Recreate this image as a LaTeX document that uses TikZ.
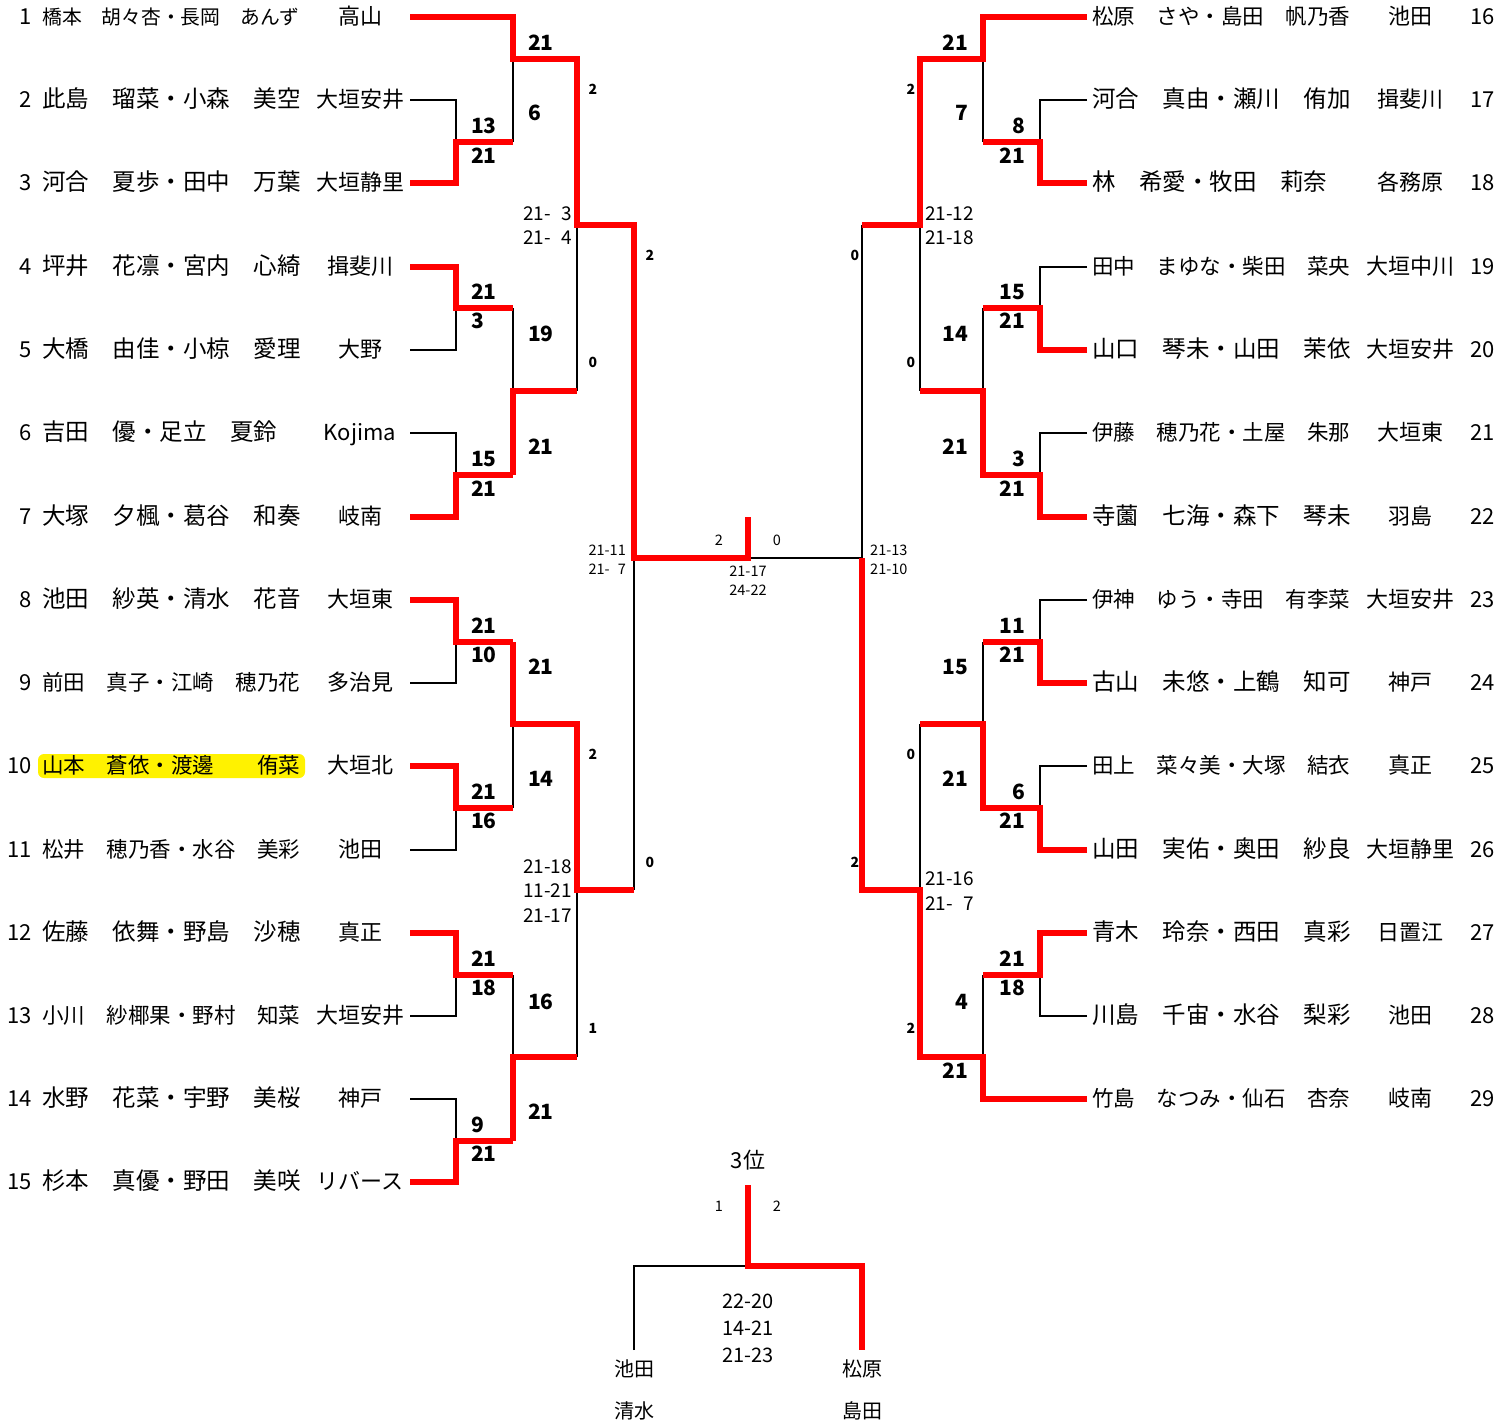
\documentclass[tikz,border=0pt]{standalone}
\usepackage{fontspec}
\setmainfont{Noto Sans CJK JP}
\begin{document}
\begin{tikzpicture}[x=1pt,y=-1pt,
  rl/.style={draw=red,line width=6.5pt},
  bl/.style={draw=black,line width=2pt},
  txt/.style={inner sep=0pt,text height=1.5em,text depth=.1em},
  sc/.style={txt,font=\fontsize{21}{22}\selectfont\bfseries},
  sm/.style={txt,font=\fontsize{14}{15}\selectfont\bfseries},
  st/.style={txt,font=\fontsize{19}{20}\selectfont},
  ss/.style={txt,font=\fontsize{14.5}{15}\selectfont},
  big/.style={txt,font=\fontsize{22}{23}\selectfont},
]
\useasboundingbox (0,0) rectangle (1510,1422);
\fill[yellow,rounded corners=6pt] (38,754) rectangle (305,778);
% left entries
\foreach \y/\n/\s/\nam/\sch in {
 17/1/19.8/橋本　胡々杏・長岡　あんず/高山,
 100/2/23.5/此島　瑠菜・小森　美空/大垣安井,
 183/3/23.5/河合　夏歩・田中　万葉/大垣静里,
 267/4/23.5/坪井　花凛・宮内　心綺/揖斐川,
 350/5/23.5/大橋　由佳・小椋　愛理/大野,
 433/6/23.5/吉田　優・足立　夏鈴/Kojima,
 517/7/23.5/大塚　夕楓・葛谷　和奏/岐南,
 600/8/23.5/池田　紗英・清水　花音/大垣東,
 683/9/21.5/前田　真子・江崎　穂乃花/多治見,
 766/10/21.5/山本　蒼依・渡邊　　侑菜/大垣北,
 850/11/21.5/松井　穂乃香・水谷　美彩/池田,
 933/12/23.5/佐藤　依舞・野島　沙穂/真正,
 1016/13/21.5/小川　紗椰果・野村　知菜/大垣安井,
 1099/14/23.5/水野　花菜・宇野　美桜/神戸,
 1182/15/23.5/杉本　真優・野田　美咲/リバース}{
 \node[big,anchor=east] (Lnum\n) at (32,\y) {\n};
 \node[txt,anchor=west,font=\fontsize{\s}{\s}\selectfont] (Lname\n) at (42,\y) {\nam};
 \node[big] (Lsch\n) at (360,\y) {\sch};
}
% right entries
\foreach \y/\n/\s/\nam/\sch in {
 17/16/21.5/松原　さや・島田　帆乃香/池田,
 100/17/23.5/河合　真由・瀬川　侑加/揖斐川,
 183/18/23.5/林　希愛・牧田　莉奈/各務原,
 267/19/21.5/田中　まゆな・柴田　菜央/大垣中川,
 350/20/23.5/山口　琴未・山田　茉依/大垣安井,
 433/21/21.5/伊藤　穂乃花・土屋　朱那/大垣東,
 517/22/23.5/寺薗　七海・森下　琴未/羽島,
 600/23/21.5/伊神　ゆう・寺田　有李菜/大垣安井,
 683/24/23.5/古山　未悠・上鶴　知可/神戸,
 766/25/21.5/田上　菜々美・大塚　結衣/真正,
 850/26/23.5/山田　実佑・奥田　紗良/大垣静里,
 933/27/23.5/青木　玲奈・西田　真彩/日置江,
 1016/28/23.5/川島　千宙・水谷　梨彩/池田,
 1099/29/21.5/竹島　なつみ・仙石　杏奈/岐南}{
 \node[txt,anchor=west,font=\fontsize{\s}{\s}\selectfont] (Rname\n) at (1092,\y) {\nam};
 \node[big] (Rsch\n) at (1410,\y) {\sch};
 \node[big,anchor=west] (Rnum\n) at (1470,\y) {\n};
}
% small round labels (drawn under lines)
\foreach \x/\y/\t [count=\i] in {593/87/2,593/360/0,593/752/2,593/1026/1,650/253/2,650/860/0,
  911/87/2,911/360/0,911/752/0,911/1026/2,855/253/0,855/860/2}{
 \node[sm] (lab\i) at (\x,\y) {\t};
}
% black lines
\draw[bl] (410,100)--(456,100)--(456,142);
\draw[bl] (410,350)--(456,350)--(456,308);
\draw[bl] (410,433)--(456,433)--(456,475);
\draw[bl] (410,683)--(456,683)--(456,642);
\draw[bl] (410,850)--(456,850)--(456,808);
\draw[bl] (410,1016)--(456,1016)--(456,975);
\draw[bl] (410,1099)--(456,1099)--(456,1141);
\draw[bl] (513,59)--(513,142);
\draw[bl] (513,308)--(513,391);
\draw[bl] (513,724)--(513,808);
\draw[bl] (513,975)--(513,1057);
\draw[bl] (577,225)--(577,391);
\draw[bl] (577,890)--(577,1057);
\draw[bl] (634,558)--(634,890);
\draw[bl] (748,558)--(862,558);
\draw[bl] (862,225)--(862,558);
\draw[bl] (920,225)--(920,391);
\draw[bl] (920,724)--(920,890);
\draw[bl] (983,59)--(983,142);
\draw[bl] (983,308)--(983,391);
\draw[bl] (983,642)--(983,724);
\draw[bl] (983,975)--(983,1057);
\draw[bl] (1087,100)--(1040,100)--(1040,142);
\draw[bl] (1087,267)--(1040,267)--(1040,308);
\draw[bl] (1087,433)--(1040,433)--(1040,475);
\draw[bl] (1087,600)--(1040,600)--(1040,642);
\draw[bl] (1087,766)--(1040,766)--(1040,808);
\draw[bl] (1087,1016)--(1040,1016)--(1040,975);
\draw[bl] (634,1350)--(634,1266)--(748,1266);
% red lines
\draw[rl] (410,183)--(456,183)--(456,142)--(513,142);
\draw[rl] (410,267)--(456,267)--(456,308)--(513,308);
\draw[rl] (410,517)--(456,517)--(456,475)--(513,475);
\draw[rl] (410,600)--(456,600)--(456,642)--(513,642);
\draw[rl] (410,766)--(456,766)--(456,808)--(513,808);
\draw[rl] (410,933)--(456,933)--(456,975)--(513,975);
\draw[rl] (410,1182)--(456,1182)--(456,1141)--(513,1141);
\draw[rl] (410,17)--(513,17)--(513,59)--(577,59)--(577,225)--(634,225)--(634,558)--(748,558)--(748,517);
\draw[rl] (513,475)--(513,391)--(577,391);
\draw[rl] (513,642)--(513,724)--(577,724)--(577,890)--(634,890);
\draw[rl] (513,1141)--(513,1057)--(577,1057);
\draw[rl] (1087,17)--(983,17)--(983,59)--(920,59)--(920,225)--(862,225);
\draw[rl] (1087,183)--(1040,183)--(1040,142)--(983,142);
\draw[rl] (1087,350)--(1040,350)--(1040,308)--(983,308);
\draw[rl] (1087,517)--(1040,517)--(1040,475)--(983,475)--(983,391)--(920,391);
\draw[rl] (1087,683)--(1040,683)--(1040,642)--(983,642);
\draw[rl] (1087,850)--(1040,850)--(1040,808)--(983,808)--(983,724)--(920,724);
\draw[rl] (1087,933)--(1040,933)--(1040,975)--(983,975);
\draw[rl] (1087,1099)--(983,1099)--(983,1057)--(920,1057)--(920,890)--(862,890)--(862,558);
\draw[rl] (748,1185)--(748,1266)--(862,1266)--(862,1350);
% left bold scores
\foreach \x/\y/\t [count=\i] in {471/126/13,471/156/21,528/43/21,528/113/6,
  471/292/21,471/321/3,528/334/19,471/459/15,471/489/21,528/447/21,
  471/626/21,471/655/10,528/667/21,471/792/21,471/821/16,528/779/14,
  471/959/21,471/988/18,528/1002/16,471/1125/9,471/1154/21,528/1112/21}{
 \node[sc,anchor=west] (ls\i) at (\x,\y) {\t};
}
% right bold scores
\foreach \x/\y/\t [count=\i] in {1025/126/8,1025/156/21,1025/292/15,1025/321/21,1025/459/3,1025/489/21,
  1025/626/11,1025/655/21,1025/792/6,1025/821/21,1025/959/21,1025/988/18,
  968/43/21,968/113/7,968/334/14,968/447/21,968/667/15,968/779/21,968/1002/4,968/1071/21}{
 \node[sc,anchor=east] (rs\i) at (\x,\y) {\t};
}
% game scores
\node[st,anchor=east] (g1) at (572,213) {21-\phantom{2}3};
\node[st,anchor=east] (g2) at (572,237) {21-\phantom{2}4};
\node[st,anchor=east] (g3) at (572,866) {21-18};
\node[st,anchor=east] (g4) at (572,890) {11-21};
\node[st,anchor=east] (g5) at (572,915) {21-17};
\node[st,anchor=west] (g6) at (925,213) {21-12};
\node[st,anchor=west] (g7) at (925,237) {21-18};
\node[st,anchor=west] (g8) at (925,878) {21-16};
\node[st,anchor=west] (g9) at (925,903) {21-\phantom{2}7};
\node[ss,anchor=east] (g10) at (626,548) {21-11};
\node[ss,anchor=east] (g11) at (626,567) {21-\phantom{2}7};
\node[ss,anchor=west] (g12) at (870,548) {21-13};
\node[ss,anchor=west] (g13) at (870,567) {21-10};
\node[ss] (g14) at (748,569) {21-17};
\node[ss] (g15) at (748,588) {24-22};
\node[ss] (f1) at (719,538) {2};
\node[ss] (f2) at (777,538) {0};
% third place
\node[big] (third) at (748,1161) {3位};
\node[ss] (t1) at (719,1204) {1};
\node[ss] (t2) at (777,1204) {2};
\node[txt,font=\fontsize{20}{21}\selectfont] (t3) at (748,1301) {22-20};
\node[txt,font=\fontsize{20}{21}\selectfont] (t4) at (748,1328) {14-21};
\node[txt,font=\fontsize{20}{21}\selectfont] (t5) at (748,1355) {21-23};
\node[txt,font=\fontsize{20}{21}\selectfont] (p1) at (634,1369) {池田};
\node[txt,font=\fontsize{20}{21}\selectfont] (p2) at (634,1411) {清水};
\node[txt,font=\fontsize{20}{21}\selectfont] (p3) at (862,1369) {松原};
\node[txt,font=\fontsize{20}{21}\selectfont] (p4) at (862,1411) {島田};
\end{tikzpicture}
\end{document}
